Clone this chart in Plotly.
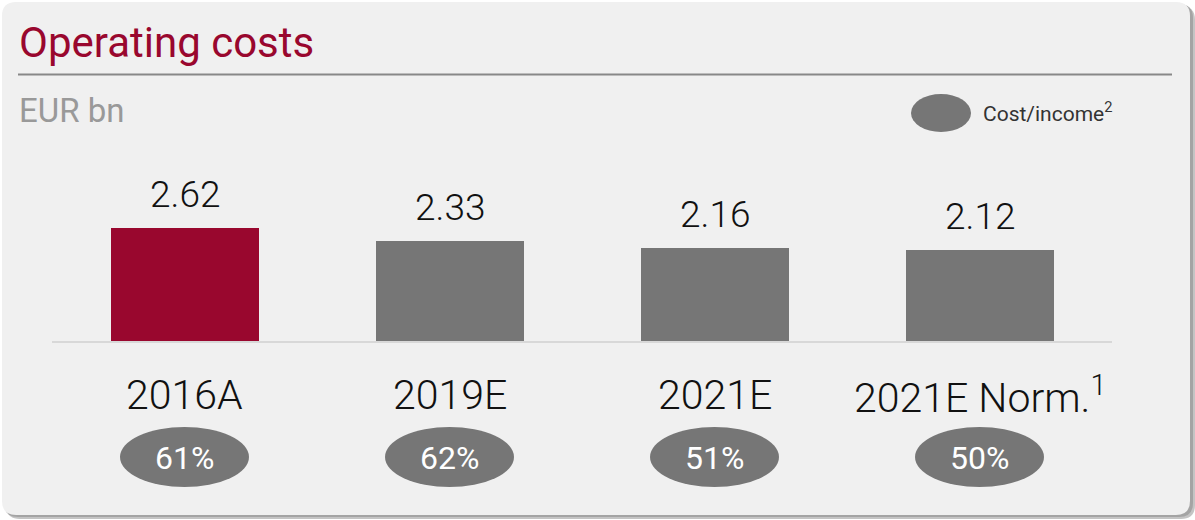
import plotly.graph_objects as go

# ---- data ----
categories = ["2016A", "2019E", "2021E", "2021E Norm.<sup>1</sup>"]
operating_costs = [2.62, 2.33, 2.16, 2.12]
cost_income = [61, 62, 51, 50]
bar_colors = ["#99072e", "#767676", "#767676", "#767676"]

W, H = 1195, 520
def px(x):
    return x / W
def py(y):
    return 1 - y / H

RED = "#99072e"
GRAY = "#767676"
FONT = "Roboto"

fig = go.Figure()
fig.add_trace(go.Bar(
    x=list(range(len(categories))), y=operating_costs,
    marker=dict(color=bar_colors, line=dict(width=0)),
    width=0.5585, hoverinfo="skip", showlegend=False,
))

def rounded_rect(x0, y0, x1, y1, r):
    pts = (
        f"M {px(x0 + r)},{py(y0)} L {px(x1 - r)},{py(y0)} "
        f"Q {px(x1)},{py(y0)} {px(x1)},{py(y0 + r)} "
        f"L {px(x1)},{py(y1 - r)} Q {px(x1)},{py(y1)} {px(x1 - r)},{py(y1)} "
        f"L {px(x0 + r)},{py(y1)} Q {px(x0)},{py(y1)} {px(x0)},{py(y1 - r)} "
        f"L {px(x0)},{py(y0 + r)} Q {px(x0)},{py(y0)} {px(x0 + r)},{py(y0)} Z"
    )
    return pts

shapes = []
# shadow
shapes.append(dict(type="path", xref="paper", yref="paper", layer="below",
                   path=rounded_rect(6, 6, 1195, 519, 14),
                   fillcolor="#c4c4c4", line=dict(width=0)))
shapes.append(dict(type="path", xref="paper", yref="paper", layer="below",
                   path=rounded_rect(4, 4, 1193, 517, 14),
                   fillcolor="#a4a4a4", line=dict(width=0)))
# panel
shapes.append(dict(type="path", xref="paper", yref="paper", layer="below",
                   path=rounded_rect(2, 2, 1190, 515, 14),
                   fillcolor="#f0f0f0", line=dict(width=0)))
# title underline
shapes.append(dict(type="line", xref="paper", yref="paper",
                   x0=px(18), x1=px(1172), y0=py(74.5), y1=py(74.5),
                   line=dict(color="#888888", width=2)))
# legend ellipse
shapes.append(dict(type="circle", xref="paper", yref="paper",
                   x0=px(911), x1=px(971), y0=py(94), y1=py(132),
                   fillcolor=GRAY, line=dict(width=0)))

annotations = [
    dict(text="Operating costs", x=px(17), y=py(42), xref="paper", yref="paper",
         xanchor="left", yanchor="middle", showarrow=False,
         font=dict(family=FONT, size=42, color=RED)),
    dict(text="EUR bn", x=px(17), y=py(110), xref="paper", yref="paper",
         xanchor="left", yanchor="middle", showarrow=False,
         font=dict(family=FONT, size=33, color="#999999")),
    dict(text="Cost/income<sup>2</sup>", x=px(981), y=py(112), xref="paper", yref="paper",
         xanchor="left", yanchor="middle", showarrow=False,
         font=dict(family=FONT, size=21, color="#333333")),
]

ell_w = 129 / 265.0
for i, (cat, v, ci) in enumerate(zip(categories, operating_costs, cost_income)):
    annotations.append(dict(text=f"{v:.2f}", x=i, y=v, xref="x", yref="y",
                            xanchor="center", yanchor="bottom", yshift=10, showarrow=False,
                            font=dict(family=FONT, size=37, color="#111111", weight=300)))
    annotations.append(dict(text=cat, x=i, y=py(395), xref="x", yref="paper",
                            xanchor="center", yanchor="middle", showarrow=False,
                            font=dict(family=FONT, size=41, color="#111111", weight=300)))
    shapes.append(dict(type="circle", xref="x", yref="paper",
                       x0=i - ell_w / 2, x1=i + ell_w / 2, y0=py(427), y1=py(487),
                       fillcolor=GRAY, line=dict(width=0)))
    annotations.append(dict(text=f"{ci}%", x=i, y=py(458), xref="x", yref="paper",
                            xanchor="center", yanchor="middle", showarrow=False,
                            font=dict(family=FONT, size=32, color="#ffffff")))

fig.update_layout(
    width=W, height=H,
    margin=dict(l=0, r=0, t=0, b=0),
    paper_bgcolor="#ffffff", plot_bgcolor="rgba(0,0,0,0)",
    shapes=shapes, annotations=annotations,
    bargap=0,
    xaxis=dict(domain=[px(52), px(1112)], range=[-0.5, 3.5],
               showline=True, linecolor="#d8d8d8", linewidth=2,
               showgrid=False, zeroline=False, showticklabels=False, ticks="",
               fixedrange=True),
    yaxis=dict(domain=[py(341), 1], range=[0, 341 / 43.1],
               showline=False, showgrid=False, zeroline=False,
               showticklabels=False, ticks="", fixedrange=True),
)

fig.write_html("out.html", config={"displayModeBar": False},
               post_script="document.body.style.margin='0px';")
